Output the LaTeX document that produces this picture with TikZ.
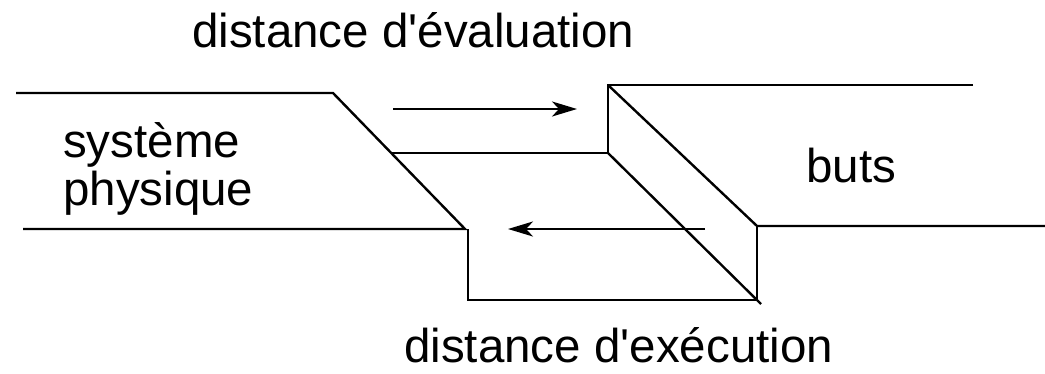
\documentclass[tikz,border=0pt]{standalone}
\usepackage{fontspec}
\setmainfont{Liberation Sans}
\usetikzlibrary{arrows.meta}
\begin{document}
\begin{tikzpicture}[x=1pt,y=-1pt,
  edge/.style={line width=2.4pt, line join=miter},
  flow/.style={line width=2.4pt, -{Stealth[length=25pt,width=15pt,inset=7pt]}},
  lbl/.style={anchor=base west, inner sep=0pt, font=\fontsize{47.5}{49}\selectfont}]
  \useasboundingbox (0,0) rectangle (1045,373);

  % physical system side
  \coordinate (s1) at (16,93);
  \coordinate (s2) at (333,93);
  \coordinate (s3) at (465,229);
  \coordinate (s4) at (23,229);
  \draw[edge] (s1) -- (s2) -- (s3) -- (s4);

  % goals side, with the step in between
  \coordinate (g1) at (973,85);
  \coordinate (g2) at (608,85);
  \coordinate (g3) at (608,153);
  \coordinate (g4) at (392,153);
  \draw[edge] (g1) -- (g2) -- (g3) -- (g4);
  \coordinate (g5) at (757,226);
  \coordinate (g6) at (1045,226);
  \draw[edge] (g2) -- (g5) -- (g6);

  % lower trough
  \coordinate (t1) at (468,229);
  \coordinate (t2) at (468,300);
  \coordinate (t3) at (757,300);
  \coordinate (t4) at (761,304);
  \draw[edge] (t1) -- (t2) -- (t3) -- (g5);
  \draw[edge] (g3) -- (t4);

  % arrows
  \coordinate (a1) at (393,109);
  \coordinate (a2) at (577,109);
  \draw[flow] (a1) -- (a2);
  \coordinate (b1) at (705,229);
  \coordinate (b2) at (508,229);
  \draw[flow] (b1) -- (b2);

  % labels
  \node[lbl] (eval) at (192,47) {distance d\textquotesingle évaluation};
  \node[lbl] (exec) at (404,362) {distance d\textquotesingle exécution};
  \node[lbl] (sys1) at (63,157) {système};
  \node[lbl] (sys2) at (63,205) {physique};
  \node[lbl] (buts) at (806,182) {buts};
\end{tikzpicture}
\end{document}
